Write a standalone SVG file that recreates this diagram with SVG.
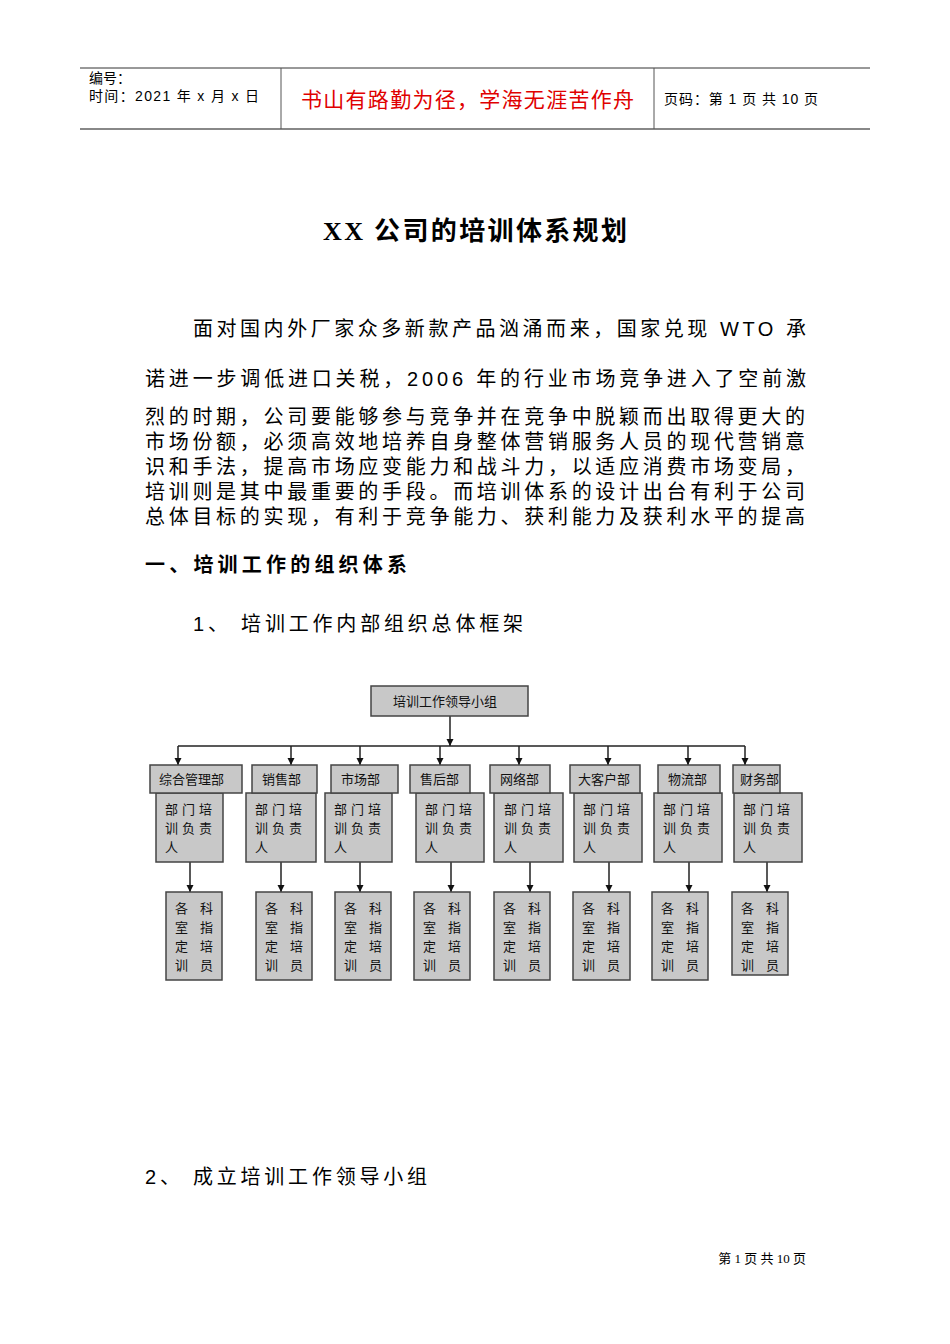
<svg xmlns="http://www.w3.org/2000/svg" width="950" height="1344" viewBox="0 0 950 1344">
<defs>
<marker id="ar" viewBox="0 0 10 10" refX="10" refY="5" markerWidth="5" markerHeight="5" orient="auto"><path d="M0,0L10,5L0,10z" fill="#111"/></marker>
<style>
.t{font-family:"Liberation Sans","Noto Sans CJK SC",sans-serif;fill:#000}
.s{font-family:"Liberation Serif","Noto Sans CJK SC",serif;fill:#000}
.b{fill:#c8c8c8;stroke:#444;stroke-width:1.5}
.n{font-family:"Noto Sans CJK SC",sans-serif;font-size:13px;fill:#111}
.c{stroke:#222;stroke-width:1.5;fill:none}
</style>
</defs>
<rect width="950" height="1344" fill="#fff"/>
<g id="header">
<line x1="80" y1="68" x2="870" y2="68" stroke="#333"/>
<line x1="80" y1="129" x2="870" y2="129" stroke="#888" stroke-width="2"/>
<line x1="281" y1="68" x2="281" y2="129" stroke="#555"/>
<line x1="654" y1="68" x2="654" y2="129" stroke="#555"/>
<text class="t" x="89" y="83" font-size="14">编号：</text>
<text class="t" x="89" y="101" font-size="14" textLength="170">时间：2021 年 x 月 x 日</text>
<text class="t" x="301" y="107" font-size="21" style="fill:#e00000" textLength="333">书山有路勤为径，学海无涯苦作舟</text>
<text class="t" x="664" y="104" font-size="14" textLength="154">页码：第 1 页 共 10 页</text>
</g>
<text class="s" x="475" y="240" font-size="26" font-weight="bold" text-anchor="middle" textLength="304">XX 公司的培训体系规划</text>
<g class="t" font-size="20">
<text x="193" y="336" textLength="613">面对国内外厂家众多新款产品汹涌而来，国家兑现 WTO 承</text>
<text x="145" y="386" textLength="661">诺进一步调低进口关税，2006 年的行业市场竞争进入了空前激</text>
<text x="145" y="424" textLength="660">烈的时期，公司要能够参与竞争并在竞争中脱颖而出取得更大的</text>
<text x="145" y="449" textLength="660">市场份额，必须高效地培养自身整体营销服务人员的现代营销意</text>
<text x="145" y="474" textLength="660">识和手法，提高市场应变能力和战斗力，以适应消费市场变局，</text>
<text x="145" y="499" textLength="660">培训则是其中最重要的手段。而培训体系的设计出台有利于公司</text>
<text x="145" y="524" textLength="660">总体目标的实现，有利于竞争能力、获利能力及获利水平的提高</text>
<text x="145" y="572" font-weight="bold" textLength="262">一、培训工作的组织体系</text>
<text x="193" y="631" textLength="330">1、 培训工作内部组织总体框架</text>
<text x="145" y="1184" textLength="282">2、 成立培训工作领导小组</text>
</g>
<text class="s" x="806" y="1263" font-size="13" text-anchor="end">第 1 页 共 10 页</text>
<g id="connectors">
<line class="c" x1="450" y1="716" x2="450" y2="746" marker-end="url(#ar)"/>
<line class="c" x1="178" y1="746" x2="745" y2="746"/>
<line class="c" x1="178" y1="746" x2="178" y2="765" marker-end="url(#ar)"/>
<line class="c" x1="291" y1="746" x2="291" y2="765" marker-end="url(#ar)"/>
<line class="c" x1="360" y1="746" x2="360" y2="765" marker-end="url(#ar)"/>
<line class="c" x1="440" y1="746" x2="440" y2="765" marker-end="url(#ar)"/>
<line class="c" x1="519" y1="746" x2="519" y2="765" marker-end="url(#ar)"/>
<line class="c" x1="608" y1="746" x2="608" y2="765" marker-end="url(#ar)"/>
<line class="c" x1="688" y1="746" x2="688" y2="765" marker-end="url(#ar)"/>
<line class="c" x1="745" y1="746" x2="745" y2="765" marker-end="url(#ar)"/>
<line class="c" x1="190" y1="862" x2="190" y2="892" marker-end="url(#ar)"/>
<line class="c" x1="281" y1="862" x2="281" y2="892" marker-end="url(#ar)"/>
<line class="c" x1="360" y1="862" x2="360" y2="892" marker-end="url(#ar)"/>
<line class="c" x1="451" y1="862" x2="451" y2="892" marker-end="url(#ar)"/>
<line class="c" x1="530" y1="862" x2="530" y2="892" marker-end="url(#ar)"/>
<line class="c" x1="609" y1="862" x2="609" y2="892" marker-end="url(#ar)"/>
<line class="c" x1="689" y1="862" x2="689" y2="892" marker-end="url(#ar)"/>
<line class="c" x1="767" y1="862" x2="767" y2="892" marker-end="url(#ar)"/>
</g>
<g id="lead"><rect class="b" x="371" y="686" width="157" height="30"/><text class="n" x="393" y="706">培训工作领导小组</text></g>
<g id="d1"><rect class="b" x="156" y="793" width="67" height="69"/><rect class="b" x="150" y="765" width="92" height="28"/><text class="n" x="159" y="784">综合管理部</text><text class="n" x="165" y="814" letter-spacing="4">部门培</text><text class="n" x="165" y="833" letter-spacing="4">训负责</text><text class="n" x="165" y="852">人</text>
<rect class="b" x="166" y="892" width="56" height="88"/><text class="n" x="175" y="913" letter-spacing="12">各科</text><text class="n" x="175" y="932" letter-spacing="12">室指</text><text class="n" x="175" y="951" letter-spacing="12">定培</text><text class="n" x="175" y="970" letter-spacing="12">训员</text></g>
<g id="d2"><rect class="b" x="246" y="793" width="70" height="69"/><rect class="b" x="252" y="765" width="65" height="28"/><text class="n" x="262" y="784">销售部</text><text class="n" x="255" y="814" letter-spacing="4">部门培</text><text class="n" x="255" y="833" letter-spacing="4">训负责</text><text class="n" x="255" y="852">人</text>
<rect class="b" x="256" y="892" width="56" height="88"/><text class="n" x="265" y="913" letter-spacing="12">各科</text><text class="n" x="265" y="932" letter-spacing="12">室指</text><text class="n" x="265" y="951" letter-spacing="12">定培</text><text class="n" x="265" y="970" letter-spacing="12">训员</text></g>
<g id="d3"><rect class="b" x="325" y="793" width="67" height="69"/><rect class="b" x="331" y="765" width="67" height="28"/><text class="n" x="341" y="784">市场部</text><text class="n" x="334" y="814" letter-spacing="4">部门培</text><text class="n" x="334" y="833" letter-spacing="4">训负责</text><text class="n" x="334" y="852">人</text>
<rect class="b" x="335" y="892" width="56" height="88"/><text class="n" x="344" y="913" letter-spacing="12">各科</text><text class="n" x="344" y="932" letter-spacing="12">室指</text><text class="n" x="344" y="951" letter-spacing="12">定培</text><text class="n" x="344" y="970" letter-spacing="12">训员</text></g>
<g id="d4"><rect class="b" x="416" y="793" width="68" height="69"/><rect class="b" x="410" y="765" width="60" height="28"/><text class="n" x="420" y="784">售后部</text><text class="n" x="425" y="814" letter-spacing="4">部门培</text><text class="n" x="425" y="833" letter-spacing="4">训负责</text><text class="n" x="425" y="852">人</text>
<rect class="b" x="414" y="892" width="56" height="88"/><text class="n" x="423" y="913" letter-spacing="12">各科</text><text class="n" x="423" y="932" letter-spacing="12">室指</text><text class="n" x="423" y="951" letter-spacing="12">定培</text><text class="n" x="423" y="970" letter-spacing="12">训员</text></g>
<g id="d5"><rect class="b" x="494" y="793" width="69" height="69"/><rect class="b" x="490" y="765" width="60" height="28"/><text class="n" x="500" y="784">网络部</text><text class="n" x="504" y="814" letter-spacing="4">部门培</text><text class="n" x="504" y="833" letter-spacing="4">训负责</text><text class="n" x="504" y="852">人</text>
<rect class="b" x="494" y="892" width="56" height="88"/><text class="n" x="503" y="913" letter-spacing="12">各科</text><text class="n" x="503" y="932" letter-spacing="12">室指</text><text class="n" x="503" y="951" letter-spacing="12">定培</text><text class="n" x="503" y="970" letter-spacing="12">训员</text></g>
<g id="d6"><rect class="b" x="574" y="793" width="68" height="69"/><rect class="b" x="570" y="765" width="70" height="28"/><text class="n" x="578" y="784">大客户部</text><text class="n" x="583" y="814" letter-spacing="4">部门培</text><text class="n" x="583" y="833" letter-spacing="4">训负责</text><text class="n" x="583" y="852">人</text>
<rect class="b" x="573" y="892" width="57" height="88"/><text class="n" x="582" y="913" letter-spacing="12">各科</text><text class="n" x="582" y="932" letter-spacing="12">室指</text><text class="n" x="582" y="951" letter-spacing="12">定培</text><text class="n" x="582" y="970" letter-spacing="12">训员</text></g>
<g id="d7"><rect class="b" x="654" y="793" width="68" height="69"/><rect class="b" x="658" y="765" width="62" height="28"/><text class="n" x="668" y="784">物流部</text><text class="n" x="663" y="814" letter-spacing="4">部门培</text><text class="n" x="663" y="833" letter-spacing="4">训负责</text><text class="n" x="663" y="852">人</text>
<rect class="b" x="652" y="892" width="56" height="88"/><text class="n" x="661" y="913" letter-spacing="12">各科</text><text class="n" x="661" y="932" letter-spacing="12">室指</text><text class="n" x="661" y="951" letter-spacing="12">定培</text><text class="n" x="661" y="970" letter-spacing="12">训员</text></g>
<g id="d8"><rect class="b" x="734" y="793" width="68" height="69"/><rect class="b" x="733" y="765" width="47" height="28"/><text class="n" x="740" y="784">财务部</text><text class="n" x="743" y="814" letter-spacing="4">部门培</text><text class="n" x="743" y="833" letter-spacing="4">训负责</text><text class="n" x="743" y="852">人</text>
<rect class="b" x="732" y="892" width="56" height="83"/><text class="n" x="741" y="913" letter-spacing="12">各科</text><text class="n" x="741" y="932" letter-spacing="12">室指</text><text class="n" x="741" y="951" letter-spacing="12">定培</text><text class="n" x="741" y="970" letter-spacing="12">训员</text></g>
</svg>
